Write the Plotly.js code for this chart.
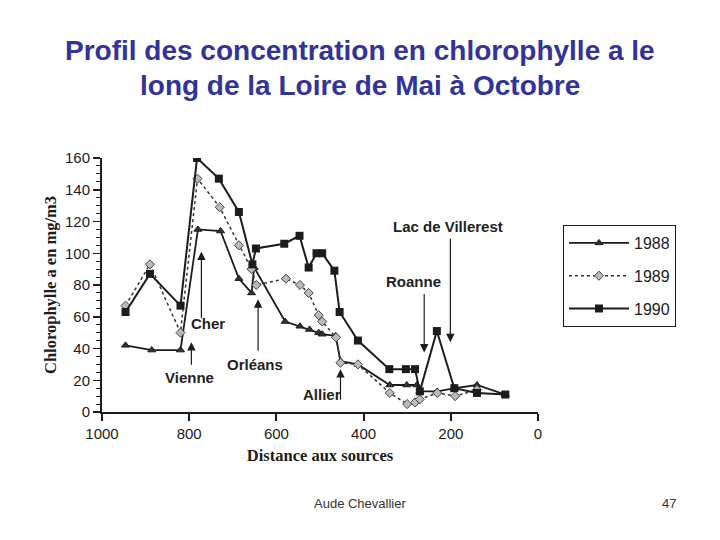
<!DOCTYPE html>
<html>
<head>
<meta charset="utf-8">
<script src="https://cdn.plot.ly/plotly-3.0.1.min.js"></script>
<style>
  html, body { margin: 0; padding: 0; background: #fff; }
  #chart { width: 720px; height: 540px; }
</style>
</head>
<body>
<div id="chart"></div>
<script>
// Distance aux sources (km) et chlorophylle a (mg/m3)
const dist1988 = [946, 886, 820, 780, 728, 686, 657, 651, 580, 546, 524, 503, 495, 464, 453, 413, 340, 301, 278, 271, 231, 190, 140, 75];
const chl1988  = [42, 39, 39, 115, 114, 84, 75, 91, 57, 54, 52, 50, 49, 48, 32, 30, 17, 17, 17, 13, 13, 15, 17, 11];

const dist1989 = [946, 890, 820, 781, 730, 686, 657, 646, 578, 546, 526, 503, 495, 463, 453, 413, 340, 300, 282, 271, 231, 190, 140];
const chl1989  = [67, 93, 50, 147, 129, 105, 90, 80, 84, 80, 75, 61, 57, 47, 31, 30, 12, 5, 6, 8, 12, 10, 14];

const dist1990 = [946, 890, 820, 782, 732, 686, 655, 647, 582, 547, 526, 508, 495, 467, 455, 413, 341, 303, 282, 271, 232, 192, 140, 75];
const chl1990  = [63, 87, 67, 160, 147, 126, 93, 103, 106, 111, 91, 100, 100, 89, 63, 45, 27, 27, 27, 13, 51, 15, 12, 11];

const yearNames = ['1988', '1989', '1990'];

// repères le long du fleuve : libellé, distance, valeur pointée
const riverMarks = ['Cher', 'Vienne', 'Orléans', 'Allier', 'Roanne', 'Lac de Villerest'];
const markDist   = [772, 795, 642, 453, 261, 201];
const markVal    = [101, 44, 71, 27, 37.5, 44];

const ink = '#1c1c1c';
const narrow = '"Liberation Sans Narrow", "Arial Narrow", "Liberation Sans", sans-serif';
const serif = '"Liberation Serif", "Times New Roman", serif';
const sans = '"Liberation Sans", Arial, sans-serif';

const traces = [
  {
    x: dist1988, y: chl1988, name: yearNames[0], legendgroup: 'a',
    type: 'scatter', mode: 'lines+markers',
    line: {color: ink, width: 1.8},
    marker: {symbol: 'triangle-up', size: 7, color: '#333', line: {color: ink, width: 1}}
  },
  {
    x: dist1989, y: chl1989, name: yearNames[1], legendgroup: 'b',
    type: 'scatter', mode: 'lines+markers',
    line: {color: '#333', width: 1.5, dash: 'dot'},
    marker: {symbol: 'diamond', size: 7, color: '#bbb', line: {color: '#444', width: 1}}
  },
  {
    x: dist1990, y: chl1990, name: yearNames[2], legendgroup: 'c',
    type: 'scatter', mode: 'lines+markers',
    line: {color: ink, width: 2},
    marker: {symbol: 'square', size: 8, color: ink}
  }
];

// décalages des flèches (px) et positions des libellés
const arrowAy = [68, 24, 53, 32, -60, -105];
const labelDist = [758, 799, 649, 496, 286, 206];
const labelVal  = [56, 22, 30, 11, 82, 117];

const annotations = [];
riverMarks.forEach((name, i) => {
  annotations.push({
    x: markDist[i], y: markVal[i], xref: 'x', yref: 'y',
    ax: 0, ay: arrowAy[i], text: '', showarrow: true,
    arrowhead: 2, arrowsize: 1.4, arrowwidth: 1.2, arrowcolor: ink
  });
  annotations.push({
    x: labelDist[i], y: labelVal[i], xref: 'x', yref: 'y',
    text: name, showarrow: false,
    font: {family: sans, size: 15, color: '#222', weight: 'bold'}
  });
});

// titre et pied de page (positions en px converties vers le repère papier)
const py = px => (412 - px) / 254;
const pxX = px => (px - 102) / 436;
annotations.push(
  {text: 'Profil des concentration en chlorophylle a le', xref: 'paper', yref: 'paper',
   x: pxX(360), y: py(50), showarrow: false, xanchor: 'center', yanchor: 'middle',
   font: {family: sans, size: 28, color: '#333399', weight: 'bold'}},
  {text: 'long de la Loire de Mai à Octobre', xref: 'paper', yref: 'paper',
   x: pxX(360), y: py(85), showarrow: false, xanchor: 'center', yanchor: 'middle',
   font: {family: sans, size: 28, color: '#333399', weight: 'bold'}},
  {text: 'Aude Chevallier', xref: 'paper', yref: 'paper',
   x: pxX(360), y: py(503), showarrow: false, xanchor: 'center', yanchor: 'middle',
   font: {family: sans, size: 13, color: '#333'}},
  {text: '47', xref: 'paper', yref: 'paper',
   x: pxX(669), y: py(503), showarrow: false, xanchor: 'center', yanchor: 'middle',
   font: {family: sans, size: 13, color: '#333'}}
);

const layout = {
  width: 720, height: 540,
  margin: {l: 102, r: 182, t: 158, b: 128},
  paper_bgcolor: '#fff', plot_bgcolor: '#fff',
  showlegend: true,
  legend: {
    x: pxX(563), y: py(225), xanchor: 'left', yanchor: 'top',
    bordercolor: ink, borderwidth: 1, bgcolor: '#fff',
    font: {family: narrow, size: 16, color: ink},
    itemwidth: 60, tracegroupgap: 9, traceorder: 'grouped'
  },
  xaxis: {
    range: [1000, 0], dtick: 200, tick0: 0,
    showline: true, linecolor: ink, linewidth: 2,
    ticks: 'outside', ticklen: 7, tickwidth: 2, tickcolor: ink,
    showgrid: false, zeroline: false,
    tickfont: {family: narrow, size: 15, color: ink},
    title: {text: 'Distance aux sources', standoff: 8,
            font: {family: serif, size: 16.5, color: ink, weight: 'bold'}}
  },
  yaxis: {
    range: [0, 160], dtick: 20,
    showline: true, linecolor: ink, linewidth: 2,
    ticks: 'outside', ticklen: 7, tickwidth: 1.5, tickcolor: ink,
    minor: {dtick: 5, ticks: 'outside', ticklen: 4, tickcolor: ink, tickwidth: 1},
    showgrid: false, zeroline: false,
    tickfont: {family: narrow, size: 15, color: ink},
    title: {text: 'Chlorophylle a en mg/m3', standoff: 4,
            font: {family: serif, size: 16.5, color: ink, weight: 'bold'}}
  },
  annotations: annotations
};

Plotly.newPlot('chart', traces, layout, {displayModeBar: false, staticPlot: true});
</script>
</body>
</html>
